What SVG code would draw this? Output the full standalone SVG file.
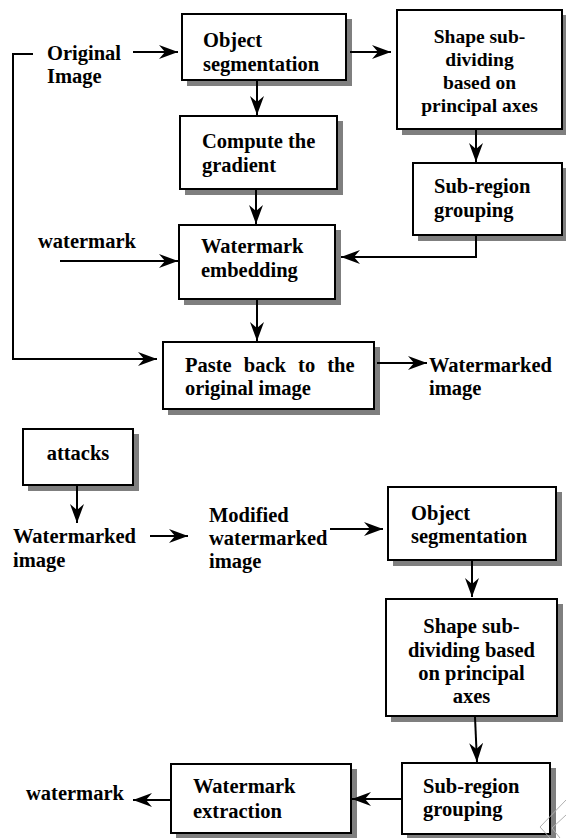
<svg xmlns="http://www.w3.org/2000/svg" width="566" height="838" viewBox="0 0 566 838">
<defs>
<marker id="ah" markerUnits="userSpaceOnUse" markerWidth="20" markerHeight="14" refX="19" refY="7" orient="auto">
<path d="M0,0 L19,7 L0,14 L6,7 Z" fill="#000"/>
</marker>
</defs>
<rect width="566" height="838" fill="#fff"/>
<g font-family="Liberation Serif, Times New Roman, serif" font-weight="bold" font-size="20.5" fill="#000">
<g id="objseg1">
<path d="M347,19 H352 V86 H187 V81 H347 Z" fill="#7f7f7f"/>
<rect x="182" y="14" width="164" height="66" fill="#fff" stroke="#000" stroke-width="2"/>
<text x="203" y="47">Object</text>
<text x="203" y="71">segmentation</text>
</g>
<g id="shape1">
<path d="M563,15 H567 V135 H402 V130 H563 Z" fill="#7f7f7f"/>
<rect x="397" y="10" width="165" height="119" fill="#fff" stroke="#000" stroke-width="2"/>
<g text-anchor="middle" font-size="19.5">
<text x="479.5" y="43">Shape sub-</text>
<text x="479.5" y="66">dividing</text>
<text x="479.5" y="89">based on</text>
<text x="479.5" y="112">principal axes</text>
</g>
</g>
<g id="compute">
<path d="M338,121 H343 V195 H185 V190 H338 Z" fill="#7f7f7f"/>
<rect x="180" y="116" width="157" height="73" fill="#fff" stroke="#000" stroke-width="2"/>
<text x="202" y="148">Compute the</text>
<text x="202" y="172">gradient</text>
</g>
<g id="subregion1">
<path d="M563,168 H567 V241 H418 V236 H563 Z" fill="#7f7f7f"/>
<rect x="413" y="163" width="149" height="72" fill="#fff" stroke="#000" stroke-width="2"/>
<text x="434" y="193">Sub-region</text>
<text x="434" y="217">grouping</text>
</g>
<g id="embed">
<path d="M336,230 H341 V305 H184 V300 H336 Z" fill="#7f7f7f"/>
<rect x="179" y="225" width="156" height="74" fill="#fff" stroke="#000" stroke-width="2"/>
<text x="201" y="253">Watermark</text>
<text x="201" y="277">embedding</text>
</g>
<g id="paste">
<path d="M375,347 H380 V415 H168 V410 H375 Z" fill="#7f7f7f"/>
<rect x="163" y="342" width="211" height="67" fill="#fff" stroke="#000" stroke-width="2"/>
<text x="185" y="372" word-spacing="7">Paste back to the</text>
<text x="185" y="395">original image</text>
</g>
<g id="lbl-original">
<text x="47" y="60">Original</text>
<text x="47" y="83">Image</text>
</g>
<g id="lbl-watermark1">
<text x="38" y="248">watermark</text>
</g>
<g id="lbl-watermarked1">
<text x="429" y="372">Watermarked</text>
<text x="429" y="395">image</text>
</g>
<g id="attacks">
<path d="M134,434 H139 V491 H28 V486 H134 Z" fill="#7f7f7f"/>
<rect x="23" y="429" width="110" height="56" fill="#fff" stroke="#000" stroke-width="2"/>
<text x="78" y="460" text-anchor="middle">attacks</text>
</g>
<g id="lbl-watermarked2">
<text x="13" y="543">Watermarked</text>
<text x="13" y="567">image</text>
</g>
<g id="lbl-modified">
<text x="209" y="522">Modified</text>
<text x="209" y="545">watermarked</text>
<text x="209" y="568">image</text>
</g>
<g id="objseg2">
<path d="M557,492 H562 V566 H393 V561 H557 Z" fill="#7f7f7f"/>
<rect x="388" y="487" width="168" height="73" fill="#fff" stroke="#000" stroke-width="2"/>
<text x="411" y="520">Object</text>
<text x="411" y="543">segmentation</text>
</g>
<g id="shape2">
<path d="M558,604 H563 V722 H391 V717 H558 Z" fill="#7f7f7f"/>
<rect x="386" y="599" width="171" height="117" fill="#fff" stroke="#000" stroke-width="2"/>
<g text-anchor="middle">
<text x="471.5" y="633">Shape sub-</text>
<text x="471.5" y="657">dividing based</text>
<text x="471.5" y="680">on principal</text>
<text x="471.5" y="703">axes</text>
</g>
</g>
<g id="subregion2">
<path d="M551,768 H556 V838 H407 V835 H551 Z" fill="#7f7f7f"/>
<rect x="402" y="763" width="148" height="71" fill="#fff" stroke="#000" stroke-width="2"/>
<text x="423" y="793">Sub-region</text>
<text x="423" y="816">grouping</text>
</g>
<g id="extraction">
<path d="M352,769 H357 V838 H176 V834 H352 Z" fill="#7f7f7f"/>
<rect x="171" y="764" width="180" height="69" fill="#fff" stroke="#000" stroke-width="2"/>
<text x="193" y="793">Watermark</text>
<text x="193" y="818">extraction</text>
</g>
<g id="lbl-watermark2">
<text x="26" y="800">watermark</text>
</g>
</g>
<g id="connectors" fill="none" stroke="#000" stroke-width="2" marker-end="url(#ah)">
<line x1="133" y1="52" x2="178" y2="52"/>
<line x1="350" y1="52" x2="391" y2="52"/>
<line x1="257" y1="81" x2="257" y2="115"/>
<line x1="256" y1="190" x2="256" y2="224"/>
<line x1="476" y1="130" x2="476" y2="162"/>
<polyline points="476,236 476,257 341,257"/>
<line x1="60" y1="261" x2="178" y2="261"/>
<line x1="257" y1="300" x2="257" y2="341"/>
<polyline points="33,54 13,54 13,359 157,359"/>
<line x1="377" y1="363" x2="427" y2="363"/>
<line x1="77" y1="486" x2="77" y2="523"/>
<line x1="150" y1="536" x2="188" y2="536"/>
<line x1="330" y1="529" x2="383" y2="529"/>
<line x1="472" y1="561" x2="472" y2="597"/>
<line x1="475" y1="717" x2="477" y2="762"/>
<line x1="401" y1="799" x2="352" y2="799"/>
<line x1="170" y1="800" x2="133" y2="800"/>
</g>
<path d="M566,800 L540,827 L550,838 M566,815 L552,828 L560,838" fill="none" stroke="#b0b0b0" stroke-width="1"/>
</svg>
